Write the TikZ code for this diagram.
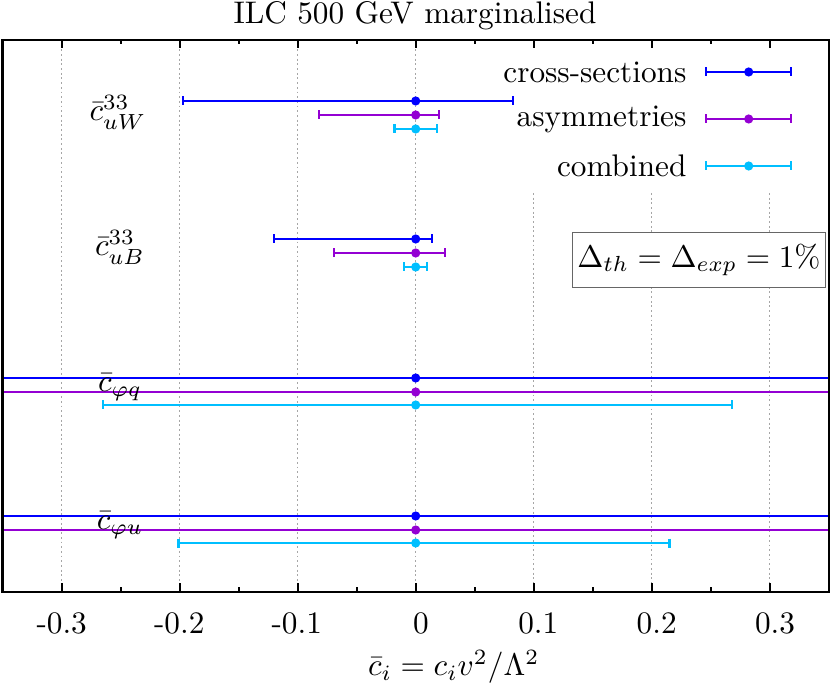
\documentclass[tikz,border=0pt]{standalone}
\usepackage{amsmath}
\definecolor{cblue}{RGB}{0,0,255}
\definecolor{cpurp}{RGB}{148,0,211}
\definecolor{ccyan}{RGB}{0,191,255}
\newcommand\XX[1]{415.7+1180*(#1)}
\newcommand\myerr[4]{%
  \draw[#1,barline] ({\XX{#3}},#2) -- ({\XX{#4}},#2);
  \draw[#1,barline] ({\XX{#3}},#2-4.5) -- ({\XX{#3}},#2+4.5);
  \draw[#1,barline] ({\XX{#4}},#2-4.5) -- ({\XX{#4}},#2+4.5);
  \fill[#1] (415.7,#2) circle[radius=4.6];
}
\begin{document}
\begin{tikzpicture}[x=0.32pt,y=-0.32pt,
  barline/.style={line width=0.7pt},
  gridline/.style={gray!70,line width=0.3pt,dash pattern=on 0.6pt off 0.9pt},
  frameline/.style={black,line width=0.75pt},
  ticklabel/.style={inner sep=0pt},
  lbl/.style={inner sep=0pt}]
\useasboundingbox (0,0) rectangle (830,687);
% grid
\foreach \v in {-0.3,-0.2,-0.1,0} \draw[gridline] ({\XX{\v}},40) -- ({\XX{\v}},592);
\foreach \v in {0.1,0.2,0.3} \draw[gridline] ({\XX{\v}},193) -- ({\XX{\v}},592);
% Delta box
\node[draw=gray!80!black,fill=white,line width=0.35pt,minimum width=252.3*0.32pt,minimum height=54.6*0.32pt,inner sep=0pt] (dbox) at (698.9,260) {$\Delta_{th}=\Delta_{exp}=1\%$};
% data
\begin{scope}
\clip (2.5,39.8) rectangle (828.7,591.7);
\myerr{cblue}{101}{-0.197}{0.0822}
\myerr{cpurp}{115}{-0.082}{0.0197}
\myerr{ccyan}{129}{-0.018}{0.0178}
\myerr{cblue}{239}{-0.1198}{0.0136}
\myerr{cpurp}{253}{-0.069}{0.0248}
\myerr{ccyan}{267}{-0.0102}{0.0099}
\myerr{cblue}{378}{-0.6}{0.6}
\myerr{cpurp}{392}{-0.6}{0.6}
\myerr{ccyan}{405}{-0.265}{0.2678}
\myerr{cblue}{516}{-0.6}{0.6}
\myerr{cpurp}{530}{-0.6}{0.6}
\myerr{ccyan}{543}{-0.201}{0.215}
\end{scope}
% frame
\draw[frameline] (2.5,39.8) rectangle (828.7,591.7);
\foreach \v in {-0.3,-0.2,-0.1,0,0.1,0.2,0.3} {
  \draw[frameline] ({\XX{\v}},39.8) -- ++(0,8);
  \draw[frameline] ({\XX{\v}},591.7) -- ++(0,-9);
}
\foreach \v in {-0.25,-0.15,-0.05,0.05,0.15,0.25} {
  \draw[frameline] ({\XX{\v}},39.8) -- ++(0,4);
  \draw[frameline] ({\XX{\v}},591.7) -- ++(0,-5);
}
% tick labels
\node[ticklabel] (t1) at (61.7,623) {-0.3};
\node[ticklabel] (t2) at (179.2,623) {-0.2};
\node[ticklabel] (t3) at (296.7,623) {-0.1};
\node[ticklabel] (t4) at (421,623) {0};
\node[ticklabel] (t5) at (538.3,623) {0.1};
\node[ticklabel] (t6) at (656.7,623) {0.2};
\node[ticklabel] (t7) at (775,623) {0.3};
% axis label and title
\node[lbl] (xl) at (453.7,667) {$\bar c_i = c_i v^2/\Lambda^2$};
\node[lbl] (title) at (415,16) {ILC 500 GeV marginalised};
% row labels
\node[lbl] (l1) at (118,112) {$\bar c^{33}_{uW}$};
\node[lbl] (l2) at (120,247) {$\bar c^{33}_{uB}$};
\node[lbl] (l3) at (120,387) {$\bar c_{\varphi q}$};
\node[lbl] (l4) at (120,525) {$\bar c_{\varphi u}$};
% legend
\node[lbl,anchor=east] (g1) at (687,72) {cross-sections};
\node[lbl,anchor=east] (g2) at (687,119) {asymmetries};
\node[lbl,anchor=east] (g3) at (687,166) {combined};
\foreach \yy/\cc in {72/cblue,119/cpurp,166/ccyan} {
  \draw[\cc,barline] (705.7,\yy) -- (791,\yy);
  \draw[\cc,barline] (705.7,\yy-4.5) -- (705.7,\yy+4.5);
  \draw[\cc,barline] (791,\yy-4.5) -- (791,\yy+4.5);
  \fill[\cc] (748.7,\yy) circle[radius=4.6];
}
\end{tikzpicture}
\end{document}
